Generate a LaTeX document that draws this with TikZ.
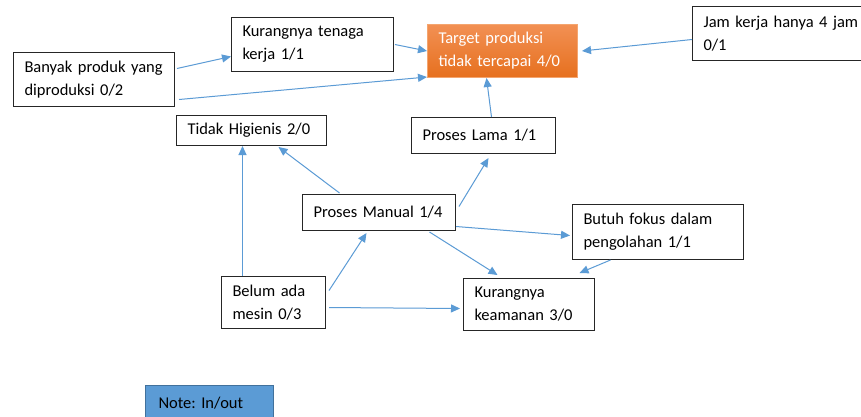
\documentclass[tikz,border=0pt]{standalone}
\usepackage{fontspec}
\setmainfont{Carlito}
\usepackage{tikz}
\usetikzlibrary{arrows.meta}
\definecolor{panah}{HTML}{5B9BD5}
\definecolor{notefill}{HTML}{5B9BD5}
\definecolor{notedraw}{HTML}{41719C}
\definecolor{oranyeatas}{HTML}{F29053}
\definecolor{oranyebawah}{HTML}{E6701E}
\definecolor{oranyegaris}{HTML}{F4A56F}
\newcommand{\teks}{\fontsize{16.5}{23}\selectfont\frenchspacing}
\tikzstyle{kotak} = [draw=black!85, line width=1pt, rectangle, anchor=north west,
    align=left, inner xsep=11pt, inner ysep=0pt, font=\teks]
\tikzstyle{sasaran} = [kotak, draw=oranyegaris, top color=oranyeatas,
    bottom color=oranyebawah, text=white]
\tikzstyle{catatan} = [kotak, fill=notefill, draw=notedraw, inner xsep=13pt]
\tikzstyle{hubung} = [draw=panah, line width=1pt, -{Triangle[length=9pt,width=8pt]}]

\begin{document}
\begin{tikzpicture}[x=1pt, y=-1pt]
                \path[use as bounding box, fill=white] (0,0) rectangle (861,416);
                % kotak
                \node[kotak, minimum width=161pt, minimum height=54pt, text width=139pt] (banyak) at (13,52) {Banyak produk yang\\diproduksi 0/2};
                \node[kotak, minimum width=162pt, minimum height=54pt, text width=140pt] (tenaga) at (231,17) {Kurangnya tenaga\\kerja 1/1};
                \node[sasaran, minimum width=150pt, minimum height=53pt, text width=128pt] (target) at (427,24) {Target produksi\\tidak tercapai 4/0};
                \node[kotak, minimum width=188pt, minimum height=54pt, text width=166pt] (jam) at (692,6) {Jam kerja hanya 4 jam\\0/1};
                \node[kotak, minimum width=150pt, minimum height=30pt, text width=128pt] (higienis) at (176,115) {Tidak Higienis 2/0};
                \node[kotak, minimum width=144pt, minimum height=36pt, text width=122pt] (lama) at (411,117) {Proses Lama 1/1};
                \node[kotak, minimum width=153pt, minimum height=36pt, text width=131pt] (manual) at (302,194) {Proses Manual 1/4};
                \node[kotak, minimum width=171pt, minimum height=55pt, text width=149pt] (butuh) at (572,204) {Butuh fokus dalam\\pengolahan 1/1};
                \node[kotak, minimum width=104pt, minimum height=52pt, text width=82pt] (belum) at (221,276) {Belum ada\\mesin 0/3};
                \node[kotak, minimum width=131pt, minimum height=52pt, text width=109pt] (keamanan) at (463,278) {Kurangnya\\keamanan 3/0};
                \node[catatan, minimum width=128pt, minimum height=36pt, text width=102pt] (note) at (145,385) {Note: In/out};
                % panah
                \draw[hubung] ([xshift=2pt,yshift=11pt]banyak.east) -- ([yshift=-12pt]tenaga.west);
                \draw[hubung] ([xshift=4pt,yshift=-20pt]banyak.east) -- ([yshift=1pt]target.south west);
                \draw[hubung] ([xshift=1pt]tenaga.east) -- (target.west);
                \draw[hubung] ([yshift=-6pt]jam.west) -- ([xshift=4pt]target.east);
                \draw[hubung] ([xshift=8pt]lama.north) -- ([xshift=-16pt]target.south);
                \draw[hubung] ([xshift=-31pt]belum.north) -- ([xshift=-9pt]higienis.south);
                \draw[hubung] ([xshift=-39.5pt,yshift=1pt]manual.north) -- ([xshift=27pt,yshift=-1pt]higienis.south);
                \draw[hubung] ([xshift=3pt,yshift=6pt]manual.east) -- ([xshift=5pt,yshift=-4pt]lama.south);
                \draw[hubung] ([xshift=3pt,yshift=12pt]belum.east) -- ([xshift=-12.5pt,yshift=-2pt]manual.south);
                \draw[hubung] ([xshift=3pt,yshift=-5pt]belum.east) -- ([xshift=-3pt,yshift=-4pt]keamanan.west);
                \draw[hubung] ([xshift=50.5pt,yshift=-1pt]manual.south) -- ([xshift=-31.5pt,yshift=3pt]keamanan.north);
                \draw[hubung] ([yshift=-14pt]manual.east) -- ([xshift=-2pt,yshift=-3.5pt]butuh.west);
                \draw[hubung] ([xshift=-47.5pt]butuh.south) -- ([xshift=50.5pt,yshift=5pt]keamanan.north);
            \end{tikzpicture}
\end{document}
